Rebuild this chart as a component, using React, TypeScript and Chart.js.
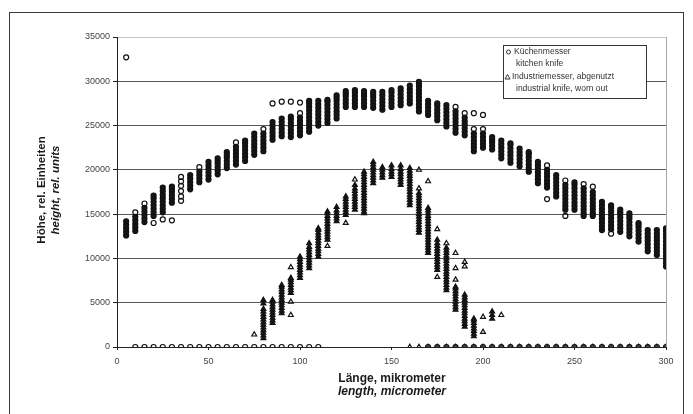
import React, { useEffect, useRef } from "react";
import { Chart, registerables } from "chart.js";

Chart.register(...registerables);

// ---- data ----
const kitchenLength = [
  5, 10, 15, 20, 25, 30, 35, 40, 45, 50, 55, 60, 65, 70, 75, 80, 85, 90, 95, 100,
  105, 110, 115, 120, 125, 130, 135, 140, 145, 150, 155, 160, 165, 170, 175, 180, 185, 190, 195, 200,
  205, 210, 215, 220, 225, 230, 235, 240, 245, 250, 255, 260, 265, 270, 275, 280, 285, 290, 295, 300,
];

const kitchenHeights: number[][] = [
  [12600, 13000, 13400, 13800, 14200, 32700],
  [13100, 13500, 13900, 14300, 14700, 15200],
  [14100, 14500, 14900, 15300, 15700, 16200],
  [14000, 14800, 15200, 15600, 16000, 16400, 16800, 17100],
  [14400, 15200, 15600, 16000, 16400, 16800, 17200, 17600, 18000],
  [14300, 16300, 16700, 17100, 17500, 17800, 18100],
  [16500, 17000, 17600, 18200, 18700, 19200],
  [17800, 18200, 18600, 19000, 19400],
  [18600, 19000, 19400, 19800, 20300],
  [18900, 19300, 19700, 20100, 20500, 20900],
  [19500, 19900, 20300, 20700, 21000, 21300],
  [20200, 20600, 21000, 21400, 21700, 22000],
  [20600, 21000, 21400, 21800, 22200, 22600, 23100],
  [21000, 21400, 21800, 22200, 22600, 23000, 23300],
  [21700, 22100, 22500, 22900, 23300, 23700, 24100],
  [22100, 22500, 22900, 23300, 23700, 24100, 24600],
  [23400, 23800, 24200, 24600, 25000, 25400, 27500],
  [23800, 24200, 24600, 25000, 25400, 25800, 27700],
  [23700, 24100, 24500, 24900, 25300, 25700, 26000, 27700],
  [23900, 24300, 24700, 25100, 25500, 25900, 26400, 27600],
  [24300, 24700, 25100, 25500, 25900, 26300, 26700, 27100, 27500, 27800],
  [25000, 25400, 25800, 26200, 26600, 27000, 27400, 27800],
  [25300, 25700, 26100, 26500, 26900, 27300, 27700, 27900],
  [25800, 26200, 26600, 27000, 27400, 27800, 28100, 28400],
  [27100, 27500, 27900, 28300, 28600, 28900],
  [27100, 27500, 27900, 28300, 28700, 29000],
  [27100, 27500, 27900, 28300, 28600, 28900],
  [27000, 27400, 27800, 28200, 28500, 28800],
  [26800, 27200, 27600, 28000, 28400, 28800],
  [27100, 27500, 27900, 28300, 28700, 29000],
  [27300, 27700, 28100, 28500, 28900, 29200],
  [27500, 27900, 28300, 28700, 29100, 29500],
  [26600, 27000, 27400, 27800, 28200, 28600, 29000, 29400, 29700, 29950],
  [26200, 26600, 27000, 27400, 27800],
  [25600, 26000, 26400, 26800, 27200, 27500],
  [24900, 25300, 25700, 26100, 26500, 26900, 27300],
  [24200, 24600, 25000, 25400, 25800, 26200, 26600, 27100],
  [23900, 24300, 24700, 25100, 25500, 25900, 26400],
  [22100, 22500, 22900, 23300, 23700, 24100, 24600, 26400],
  [22500, 22900, 23300, 23700, 24100, 24600, 26200],
  [22300, 22700, 23100, 23400, 23700],
  [21300, 21700, 22100, 22500, 22900, 23300],
  [20800, 21200, 21600, 22000, 22400, 22800, 23000],
  [20400, 20800, 21200, 21600, 22000, 22400],
  [19800, 20200, 20600, 21000, 21400, 21800, 22000],
  [18500, 18900, 19300, 19700, 20100, 20500, 20900],
  [16700, 18000, 18400, 18800, 19200, 19600, 20000, 20500],
  [17000, 17400, 17800, 18200, 18600, 19000, 19400],
  [14800, 15500, 15900, 16300, 16700, 17100, 17500, 17900, 18300, 18800],
  [15500, 15900, 16300, 16700, 17100, 17500, 17900, 18300, 18600],
  [14800, 15100, 15500, 15900, 16300, 16700, 17100, 17500, 17900, 18400],
  [14800, 15100, 15500, 15900, 16300, 16700, 17100, 17500, 18100],
  [13200, 13600, 14000, 14400, 14800, 15200, 15600, 16000, 16400],
  [12800, 13300, 13700, 14100, 14500, 14900, 15300, 15700, 16000],
  [13000, 13400, 13800, 14200, 14600, 15000, 15200, 15500],
  [12500, 12900, 13300, 13700, 14100, 14500, 14800, 15100],
  [11900, 12300, 12700, 13100, 13500, 13800, 14000],
  [10800, 11200, 11600, 12000, 12400, 12800, 13200],
  [10400, 10800, 11200, 11600, 12000, 12400, 12800, 13200],
  [9100, 9500, 9900, 10300, 10700, 11100, 11500, 11900, 12300, 12700, 13100, 13400],
];

const kitchenZeroLength = [
  10, 15, 20, 25, 30, 35, 40, 45, 50, 55, 60, 65, 70, 75, 80, 85, 90, 95, 100, 105, 110,
  170, 175, 180, 185, 190, 195, 200, 205, 210, 215, 220, 225, 230, 235, 240, 245, 250,
  255, 260, 265, 270, 275, 280, 285, 290, 295, 300,
];

const industrialLength = [
  75, 80, 85, 90, 95, 100, 105, 110, 115, 120, 125, 130, 135, 140,
  145, 150, 155, 160, 165, 170, 175, 180, 185, 190, 195, 200, 205, 210,
];

const industrialHeights: number[][] = [
  [1400],
  [1000, 1300, 1600, 1900, 2200, 2500, 2800, 3100, 3400, 3700, 4000, 4300, 4900, 5300],
  [2700, 3000, 3300, 3600, 3900, 4200, 4500, 4800, 5100, 5300],
  [3800, 4100, 4400, 4700, 5000, 5300, 5600, 5900, 6200, 6500, 6800, 7000],
  [3600, 5100, 6100, 6400, 6700, 7000, 7300, 7600, 7800, 9000],
  [7800, 8100, 8400, 8700, 9000, 9300, 9600, 9900, 10200],
  [8900, 9200, 9500, 9800, 10100, 10400, 10700, 11000, 11300, 11700],
  [10200, 10500, 10800, 11100, 11400, 11700, 12000, 12300, 12600, 12900, 13200, 13400],
  [11400, 12100, 12400, 12700, 13000, 13300, 13600, 13900, 14200, 14500, 14800, 15100, 15300],
  [14200, 14500, 14800, 15100, 15400, 15800],
  [14000, 14900, 15200, 15500, 15800, 16100, 16400, 16700, 17000],
  [15500, 15800, 16100, 16400, 16700, 17000, 17300, 17600, 17900, 18300, 18900],
  [15100, 15300, 15600, 15900, 16200, 16500, 16800, 17100, 17400, 17700, 18000, 18300, 18600, 18900, 19200, 19500, 19800],
  [18500, 18800, 19100, 19400, 19700, 20000, 20300, 20600, 20900],
  [19100, 19400, 19700, 20000, 20300],
  [19200, 19500, 19800, 20100, 20500],
  [18300, 18600, 18900, 19200, 19500, 19800, 20100, 20500],
  [16000, 16300, 16600, 16900, 17200, 17500, 17800, 18100, 18400, 18700, 19000, 19300, 19600, 19900, 20200],
  [12900, 13200, 13500, 13800, 14100, 14400, 14700, 15000, 15300, 15600, 15900, 16200, 16500, 16800, 17100, 17400, 17900, 20000],
  [10600, 10900, 11200, 11500, 11800, 12100, 12400, 12700, 13000, 13300, 13600, 13900, 14200, 14500, 14800, 15100, 15400, 15700, 18700],
  [7900, 8700, 9000, 9300, 9600, 9900, 10200, 10500, 10800, 11100, 11400, 11700, 12100, 13300],
  [6400, 6700, 7000, 7300, 7600, 7900, 8200, 8500, 8800, 9100, 9400, 9700, 10000, 10300, 10600, 10900, 11200, 11700],
  [4200, 4500, 4800, 5100, 5400, 5700, 6000, 6300, 6600, 6800, 7600, 8900, 10600],
  [2300, 2600, 2900, 3200, 3500, 3800, 4100, 4400, 4700, 5000, 5300, 5600, 5900, 9100, 9600],
  [1200, 1500, 1800, 2100, 2400, 2700, 3000, 3200],
  [1700, 3400],
  [3200, 3600, 4000],
  [3600],
];

const industrialZeroLength = [
  160, 165, 170, 175, 180, 185, 190, 195, 200, 205, 210, 215, 220, 225, 230,
  235, 240, 245, 250, 255, 260, 265, 270, 275, 280, 285, 290, 295, 300,
];

const legendLines = [
  "Küchenmesser",
  "kitchen knife",
  "Industriemesser, abgenutzt",
  "industrial knife, worn out",
];
const yTitle = ["Höhe, rel. Einheiten", "height, rel. units"];
const xTitle = ["Länge, mikrometer", "length, micrometer"];

const FONT = "'Liberation Sans', Arial, sans-serif";

function toPoints(xs: number[], cols: number[][]) {
  const pts: { x: number; y: number }[] = [];
  xs.forEach((x, i) => cols[i].forEach((y) => pts.push({ x, y })));
  return pts;
}

// markers inside a dense stack look solid; isolated ones stay hollow;
// zero markers shared by both series look darker
function fills(pts: { x: number; y: number }[], otherZeros: number[]) {
  return pts.map((p, i) => {
    if (p.y === 0) return otherZeros.includes(p.x) ? "#444" : "rgba(255,255,255,0)";
    return pts.some((q, j) => j !== i && q.x === p.x && Math.abs(q.y - p.y) <= 450)
      ? "#161616"
      : "rgba(255,255,255,0)";
  });
}

const decorPlugin = {
  id: "decor",
  afterDraw(chart: any) {
    const ctx = chart.ctx as CanvasRenderingContext2D;
    const a = chart.chartArea;
    ctx.save();
    // outer frame
    ctx.strokeStyle = "#3a3a3a";
    ctx.lineWidth = 1;
    ctx.strokeRect(9.5, 12.5, 674, 420);
    // right border of plot
    ctx.strokeStyle = "#a8a8a8";
    ctx.beginPath();
    ctx.moveTo(Math.round(a.right) + 0.5, a.top);
    ctx.lineTo(Math.round(a.right) + 0.5, a.bottom);
    ctx.stroke();

    // legend box
    ctx.fillStyle = "#fff";
    ctx.fillRect(503.5, 45.5, 143, 53);
    ctx.strokeStyle = "#333";
    ctx.strokeRect(503.5, 45.5, 143, 53);
    ctx.fillStyle = "#333";
    ctx.font = `8.5px ${FONT}`;
    ctx.textBaseline = "middle";
    ctx.textAlign = "left";
    const ys = [52, 64, 77, 89];
    ctx.fillText(legendLines[0], 514, ys[0]);
    ctx.fillText(legendLines[1], 516, ys[1]);
    ctx.fillText(legendLines[2], 512, ys[2]);
    ctx.fillText(legendLines[3], 516, ys[3]);
    ctx.strokeStyle = "#333";
    ctx.beginPath();
    ctx.arc(508.5, ys[0], 2, 0, Math.PI * 2);
    ctx.stroke();
    ctx.beginPath();
    ctx.moveTo(507.5, ys[2] - 2.5);
    ctx.lineTo(510, ys[2] + 2);
    ctx.lineTo(505, ys[2] + 2);
    ctx.closePath();
    ctx.stroke();

    // axis titles
    ctx.fillStyle = "#1a1a1a";
    ctx.textAlign = "center";
    ctx.font = `bold 12px ${FONT}`;
    ctx.fillText(xTitle[0], 392, 379);
    ctx.font = `italic bold 12px ${FONT}`;
    ctx.fillText(xTitle[1], 392, 392);

    ctx.save();
    ctx.translate(42, 190);
    ctx.rotate(-Math.PI / 2);
    ctx.font = `bold 11.5px ${FONT}`;
    ctx.fillText(yTitle[0], 0, 0);
    ctx.restore();
    ctx.save();
    ctx.translate(56, 190);
    ctx.rotate(-Math.PI / 2);
    ctx.font = `italic bold 11.5px ${FONT}`;
    ctx.fillText(yTitle[1], 0, 0);
    ctx.restore();

    ctx.restore();
  },
};

export default function App() {
  const ref = useRef<HTMLCanvasElement>(null);

  useEffect(() => {
    if (!ref.current) return;
    const kitchen = [
      ...toPoints(kitchenLength, kitchenHeights),
      ...kitchenZeroLength.map((x) => ({ x, y: 0 })),
    ];
    const industrial = [
      ...toPoints(industrialLength, industrialHeights),
      ...industrialZeroLength.map((x) => ({ x, y: 0 })),
    ];
    const chart = new Chart(ref.current, {
      type: "scatter",
      data: {
        datasets: [
          {
            label: "Küchenmesser / kitchen knife",
            data: kitchen,
            pointStyle: "circle",
            pointRadius: 2.5,
            borderColor: "#111",
            backgroundColor: fills(kitchen, industrialZeroLength),
            borderWidth: 1.2,
          },
          {
            label: "Industriemesser, abgenutzt / industrial knife, worn out",
            data: industrial,
            pointStyle: "triangle",
            pointRadius: 2.8,
            borderColor: "#111",
            backgroundColor: fills(industrial, kitchenZeroLength),
            borderWidth: 1.2,
          },
        ],
      },
      options: {
        animation: false,
        responsive: false,
        events: [],
        layout: { padding: { left: 0, right: 27, top: 37, bottom: 0 } },
        plugins: { legend: { display: false }, tooltip: { enabled: false } },
        scales: {
          x: {
            type: "linear",
            min: 0,
            max: 300,
            afterFit: (s: any) => {
              s.height = 67;
            },
            ticks: {
              stepSize: 50,
              color: "#444",
              font: { family: FONT, size: 9 },
              padding: 6,
              maxRotation: 0,
              callback: (v: any) => String(v),
            },
            grid: {
              drawOnChartArea: false,
              drawTicks: true,
              tickLength: 3,
              color: "#222",
            },
            border: { display: true, color: "#222", width: 1 },
          },
          y: {
            min: 0,
            max: 35000,
            afterFit: (s: any) => {
              s.width = 117;
            },
            ticks: {
              stepSize: 5000,
              color: "#444",
              font: { family: FONT, size: 9 },
              padding: 3,
              callback: (v: any) => String(v),
            },
            grid: {
              color: (c: any) =>
                c.tick && c.tick.value === 35000
                  ? "#c4c4c4"
                  : c.tick && c.tick.value === 0
                  ? "rgba(0,0,0,0)"
                  : "#5a5a5a",
              lineWidth: 1,
              tickColor: "#222",
              tickLength: 4,
            },
            border: { display: true, color: "#222", width: 1 },
          },
        },
      },
      plugins: [decorPlugin],
    });
    return () => chart.destroy();
  }, []);

  return (
    <div style={{ position: "fixed", left: 0, top: 0, width: 693, height: 414, background: "#fff" }}>
      <canvas ref={ref} width={693} height={414} style={{ display: "block" }} />
    </div>
  );
}
